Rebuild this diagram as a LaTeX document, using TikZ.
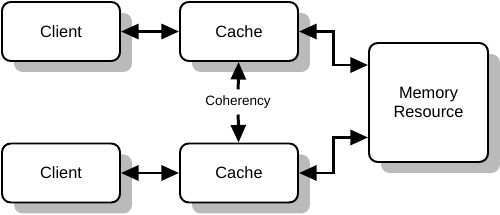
\documentclass[tikz,border=0pt]{standalone}
\usepackage{fontspec}
\setmainfont{Liberation Sans}
\usetikzlibrary{arrows.meta,shadows}
\tikzset{
  box/.style={draw, line width=1.1pt, rounded corners=5pt, fill=white,
    minimum width=2.36cm, minimum height=1.18cm, align=center,
    font=\fontsize{9.3}{11}\selectfont,
    drop shadow={shadow xshift=0.24cm, shadow yshift=-0.22cm, fill=black!27, opacity=1}},
  link/.style={line width=1.7pt, <->},
}
\begin{document}
\begin{tikzpicture}[x=0.02cm, y=-0.02cm, >={Triangle[length=10pt,width=8.5pt]}]
  \useasboundingbox (0,0) rectangle (500,215);
  % boxes
  \node[box] (clientT) at (61,31.5) {Client};
  \node[box] (cacheT) at (239,31.5) {Cache};
  \node[box] (clientB) at (61,173) {Client};
  \node[box] (cacheB) at (239,173) {Cache};
  \node[box, minimum width=2.38cm, minimum height=2.38cm] (mem) at (428.5,102.5) {Memory\\ Resource};
  \node[font=\fontsize{7.7}{9}\selectfont] (coh) at (238,102) {Coherency};
  % connectors
  \draw[link] (clientT) -- (cacheT);
  \draw[link] (clientB) -- (cacheB);
  \draw[link] (cacheT.east) -- ++(35,0) |- ([yshift=0.75cm]mem.west);
  \draw[link] (cacheB.east) -- ++(35,0) |- ([yshift=-0.7cm]mem.west);
  \draw[link, <-] (cacheT) -- (coh);
  \draw[link, ->] (coh) -- (cacheB);
\end{tikzpicture}
\end{document}
